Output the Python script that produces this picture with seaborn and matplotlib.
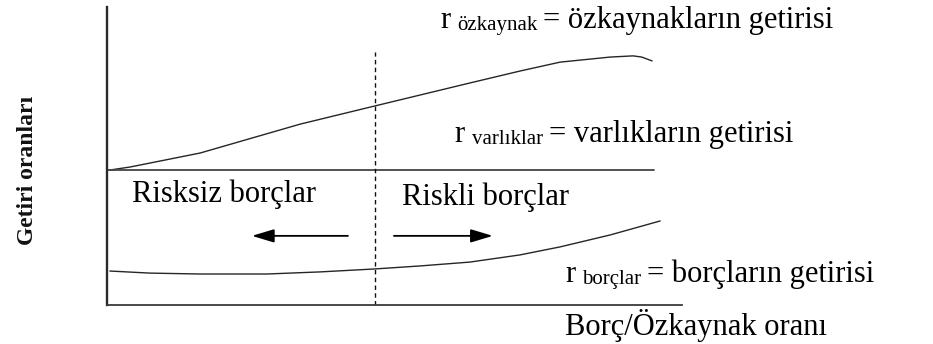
import matplotlib
matplotlib.use("Agg")
import matplotlib.pyplot as plt
import seaborn as sns

# ---- data (conceptual units: debt/equity ratio on x, rate of return on y) ----
equity_x = [0.05, 0.40, 1.62, 3.36, 4.66, 6.31, 7.18, 7.88, 8.75, 9.15, 9.30, 9.48]
equity_y = [4.53, 4.63, 5.10, 6.07, 6.68, 7.45, 7.85, 8.15, 8.32, 8.36, 8.32, 8.19]

debt_x = [0.05, 0.75, 1.62, 2.78, 3.70, 4.66, 5.44, 6.31, 7.18, 7.88, 8.75, 9.62]
debt_y = [1.14, 1.07, 1.04, 1.04, 1.11, 1.21, 1.31, 1.44, 1.68, 1.95, 2.35, 2.82]

assets_x = [0.0, 9.51]
assets_y = [4.53, 4.53]

threshold_x = 4.66
threshold_top = 8.49

left_arrow_x = [4.19, 2.52]
right_arrow_x = [4.99, 6.71]
arrow_y = 2.32

equity_label = ["r", "özkaynak", "= özkaynakların getirisi"]
assets_label = ["r", "varlıklar", "= varlıkların getirisi"]
debt_label = ["r", "borçlar", "= borçların getirisi"]
region_labels = ["Risksiz borçlar", "Riskli borçlar"]
x_label = "Borç/Özkaynak oranı"
y_label = "Getiri oranları"

# ---- style ----
sns.set_theme(style="white")
plt.rcParams["font.family"] = ["Liberation Serif", "DejaVu Serif"]

fig = plt.figure(figsize=(9.33, 3.44), dpi=100)
ax = fig.add_axes([107 / 933, 39 / 344, 575 / 933, 298 / 344])
ax.set_xlim(0, 10)
ax.set_ylim(0, 10)
ax.set_xticks([])
ax.set_yticks([])
for s in ["top", "right"]:
    ax.spines[s].set_visible(False)
ax.spines["left"].set_color("#2a2a2a")
ax.spines["left"].set_linewidth(1.7)
ax.spines["bottom"].set_color("#3a3a3a")
ax.spines["bottom"].set_linewidth(1.3)
ax.patch.set_alpha(0)

line_color = "#262626"
sns.lineplot(x=equity_x, y=equity_y, ax=ax, color=line_color, linewidth=1.0, sort=False)
sns.lineplot(x=debt_x, y=debt_y, ax=ax, color=line_color, linewidth=1.0, sort=False)
sns.lineplot(x=assets_x, y=assets_y, ax=ax, color="#444444", linewidth=1.3, sort=False)
ax.vlines(threshold_x, 0, threshold_top, colors="#111111", linestyles=(0, (3.2, 2.4)), linewidth=1.0)

arrow_kw = dict(arrowstyle="-|>,head_length=0.9,head_width=0.27", color="black",
                lw=1.3, mutation_scale=15, shrinkA=0, shrinkB=0)
ax.annotate("", xy=(left_arrow_x[1], arrow_y), xytext=(left_arrow_x[0], arrow_y), arrowprops=arrow_kw)
ax.annotate("", xy=(right_arrow_x[1], arrow_y), xytext=(right_arrow_x[0], arrow_y), arrowprops=arrow_kw)

fs = 22
fs_sub = 15


def subscript_label(x, y, parts):
    t0 = ax.text(x, y, parts[0], fontsize=fs, ha="left", va="baseline", color="black")
    t1 = ax.annotate(parts[1], xy=(1, 0), xycoords=t0, xytext=(5, 0), textcoords="offset points",
                     fontsize=fs_sub, ha="left", va="bottom", color="black")
    ax.annotate(parts[2], xy=(1, 0), xycoords=t1, xytext=(4, 0), textcoords="offset points",
                fontsize=fs, ha="left", va="bottom", color="black")


subscript_label(5.79, 9.30, equity_label)
subscript_label(6.05, 5.47, assets_label)
subscript_label(7.97, 0.77, debt_label)

ax.text(0.43, 3.47, region_labels[0], fontsize=fs, ha="left", va="baseline", color="black")
ax.text(5.13, 3.36, region_labels[1], fontsize=fs, ha="left", va="baseline", color="black")
ax.text(7.97, -1.01, x_label, fontsize=fs, ha="left", va="baseline", color="black")
ax.text(-1.39, 4.50, y_label, fontsize=17, fontweight="bold", ha="center", va="center",
        rotation=90, color="#111111")

fig.savefig("out.png", dpi=100)
